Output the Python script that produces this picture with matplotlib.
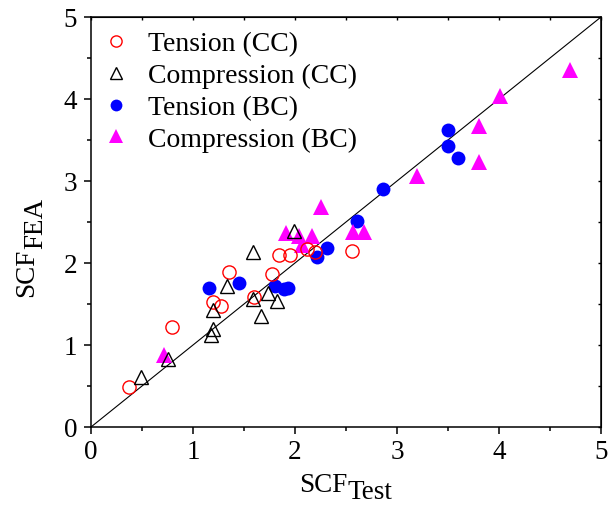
import matplotlib
matplotlib.use("Agg")
import matplotlib.pyplot as plt
from matplotlib.ticker import MultipleLocator

plt.rcParams['font.family'] = ['Liberation Serif', 'DejaVu Serif']

# Data
tension_cc_x = [0.37, 0.79, 1.20, 1.27, 1.35, 1.60, 1.77, 1.84, 1.95, 2.12, 2.20, 2.56]
tension_cc_y = [0.49, 1.22, 1.52, 1.48, 1.89, 1.59, 1.87, 2.10, 2.10, 2.17, 2.13, 2.15]

compression_cc_x = [0.49, 0.75, 1.18, 1.20, 1.20, 1.33, 1.59, 1.59, 1.67, 1.74, 1.82, 1.99]
compression_cc_y = [0.61, 0.83, 1.12, 1.20, 1.43, 1.72, 2.13, 1.56, 1.35, 1.63, 1.54, 2.39]

tension_bc_x = [1.16, 1.45, 1.80, 1.89, 1.93, 2.22, 2.31, 2.61, 2.86, 3.50, 3.50, 3.60]
tension_bc_y = [1.70, 1.76, 1.72, 1.68, 1.69, 2.07, 2.18, 2.51, 2.90, 3.62, 3.43, 3.28]

compression_bc_x = [0.72, 1.91, 2.04, 2.17, 2.07, 2.25, 2.57, 2.68, 3.20, 3.80, 3.80, 4.01, 4.70]
compression_bc_y = [0.88, 2.36, 2.33, 2.33, 2.22, 2.68, 2.38, 2.38, 3.06, 3.67, 3.23, 4.04, 4.35]

labels = ['Tension (CC)', 'Compression (CC)', 'Tension (BC)', 'Compression (BC)']
ticks = [0, 1, 2, 3, 4, 5]

W, H = 611, 510
fig = plt.figure(figsize=(W/100, H/100), dpi=100)
ax = fig.add_axes([91/W, (H-428)/H, 510/W, 410/H])

ax.plot([0, 5], [0, 5], color='black', lw=0.8, zorder=1)

ax.plot(tension_cc_x, tension_cc_y, 'o', ms=9.5, mfc='none', mec='#ff0000', mew=1.0,
        ls='none', label=labels[0], zorder=3)
ax.plot(compression_cc_x, compression_cc_y, '^', ms=10.5, mfc='none', mec='black', mew=1.0,
        ls='none', label=labels[1], zorder=3)
ax.plot(tension_bc_x, tension_bc_y, 'o', ms=10, mfc='#0000ff', mec='#0000ff', mew=0,
        ls='none', label=labels[2], zorder=2)
ax.plot(compression_bc_x, compression_bc_y, '^', ms=11.5, mfc='#ff00ff', mec='#ff00ff', mew=0,
        ls='none', label=labels[3], zorder=2)

ax.set_xlim(0, 5)
ax.set_ylim(0, 5)
ax.set_xticks(ticks)
ax.set_yticks(ticks)
ax.xaxis.set_minor_locator(MultipleLocator(0.5))
ax.yaxis.set_minor_locator(MultipleLocator(0.5))
ax.tick_params(which='major', direction='out', length=5, width=1.1, labelsize=19.5,
               top=False, right=False)
ax.tick_params(axis='x', which='major', pad=4)
ax.tick_params(axis='y', which='major', pad=5)
ax.tick_params(which='minor', direction='out', length=3, width=1.1, top=False, right=False)
for s in ax.spines.values():
    s.set_linewidth(1.1)

# small inward ticks on right/top
axr = ax.secondary_yaxis('right')
axr.set_yticks([0.5*i for i in range(11)])
axr.tick_params(direction='in', length=2, width=1, labelright=False)
axt = ax.secondary_xaxis('top')
axt.set_xticks([0.5*i for i in range(11)])
axt.tick_params(direction='in', length=2, width=1, labeltop=False)

leg = ax.legend(loc='upper left', frameon=False, fontsize=20, handletextpad=0.65,
                borderaxespad=0.0, borderpad=0.4, labelspacing=0.23, handlelength=1.0,
                markerscale=0.85, bbox_to_anchor=(0.0, 1 - 3/410))

# Axis labels with full-size subscripts
fs_lab = 19.5
fig.canvas.draw()
r = fig.canvas.get_renderer()
# x label
t1 = fig.text(0, 1 - 492/H, 'SCF', fontsize=fs_lab, ha='left', va='baseline')
t1b = fig.text(0, 1 - 499/H, 'Test', fontsize=fs_lab, ha='left', va='baseline')
w1 = t1.get_window_extent(r).width
w2 = t1b.get_window_extent(r).width
x0 = 346 - (w1 + w2) / 2
t1.set_x(x0/W)
t1b.set_x((x0 + w1)/W)

# y label (rotated)
t2 = fig.text(33/W, 1 - 297/H, 'SCF', fontsize=fs_lab, rotation=90,
              rotation_mode='anchor', ha='left', va='baseline')
h2 = t2.get_window_extent(r).height
fig.text(42/W, 1 - (297 - h2)/H, 'FEA', fontsize=fs_lab, rotation=90,
         rotation_mode='anchor', ha='left', va='baseline')

fig.savefig('out.png', dpi=100)
